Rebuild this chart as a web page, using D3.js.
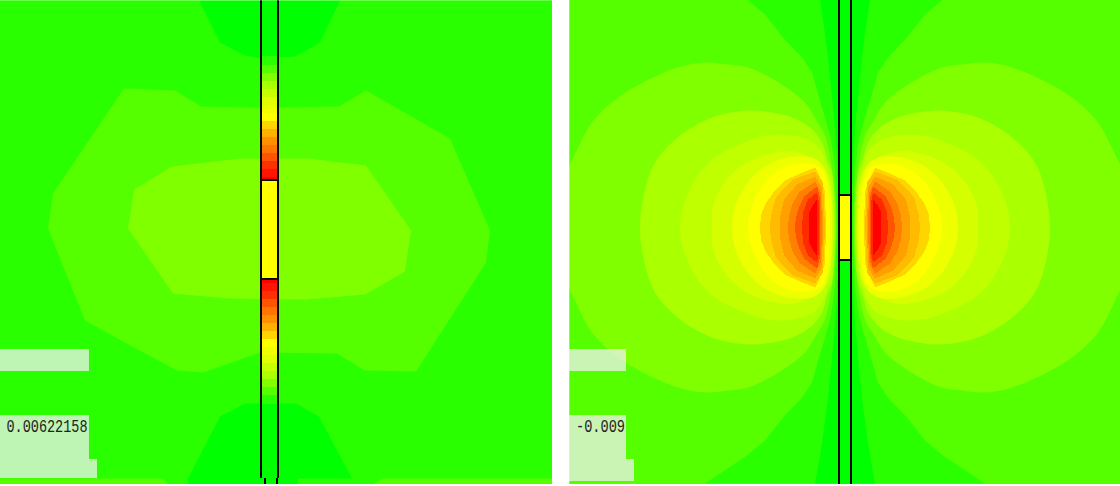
<!DOCTYPE html>
<meta charset="utf-8" />
<script src="https://d3js.org/d3.v7.min.js"></script>
<div id="my_dataviz"></div>
<script>
  // field contour levels, coordinates are offsets from the plate centre
  const levelColors = {
    l0: "#00ff00", l1: "#2aff00", l2: "#55ff00", l3: "#80ff00", l4: "#aaff00",
    l5: "#c0ff00", l6: "#d5ff00", l7: "#eeff00", l8: "#ffff00", l9: "#ffd500",
    l10: "#ffbb00", l11: "#ffa000", l12: "#ff8000", l13: "#ff5500", l14: "#ff2a00", l15: "#ff0000",
  };

  // left panel: closed contours
  const leftLevel0Top = [[-71,-229],[-50,-187],[-25,-174],[-9,-171],[9,-172],[25,-173],[50,-187],[70,-229]];
  const leftLevel0Bottom = [[-25,174],[26,174],[49,187],[82,249],[28,249],[28,255],[-82,255],[-82,249],[-50,187]];
  const leftLevel2 = [[-146,-141],[-95,-139],[-69,-123],[-9,-122],[9,-122],[69,-123],[96,-139],[180,-91],[220,1],[216,33],[146,142],[95,141],[67,124],[-10,123],[-67,143],[-93,141],[-147,112],[-185,91],[-222,-1],[-217,-36]];
  const leftLevel3 = [[-142,-1],[-136,-40],[-98,-63],[-30,-71],[38,-71],[96,-64],[141,1],[135,42],[95,65],[35,70],[-40,69],[-97,64]];
  const leftStripA = [[-270,249],[-107,249],[-102,255],[-270,255]];
  const leftStripB = [[112,249],[282,249],[282,255],[103,255]];

  // left plate: distance from the centre where each stripe starts, and its colour
  const stripeDy = [49,53,61,69,77,85,93,101,109,117,125,133,141,149,157,165,174];
  const stripeColors = ["#ff0000","#ff1500","#ff3000","#ff5500","#ff7500","#ff9000","#ffb000","#ffd500","#ffff00","#f0ff00","#e0ff00","#c8ff00","#aaff00","#80ff00","#55ff00","#2aff00"];

  // right panel: one quarter of each contour, [dx, |dy|], mirrored when drawn
  const wedge1 = [[140,256],[98,228],[80,213],[62,190],[43,170],[33,155],[26,130],[20,110],[14,88],[10,60],[8,0]];
  const wedge0 = [[30,256],[25,228],[21,201],[17,171],[14,140],[11,110],[8,70],[7,40],[7,0]];
  const lobes = [
    { level: "l3", q: [[305,0],[290,35],[275,63],[253,105],[227,130],[200,146],[167,160],[140,165],[117,163],[97,160],[75,150],[53,136],[40,125],[28,106],[20,92],[15,71],[12,50],[10,30],[9,0]] },
    { level: "l4", q: [[205,0],[200,38],[190,65],[173,85],[153,100],[130,111],[97,117],[73,115],[53,110],[35,100],[23,85],[18,68],[13,55],[11,35],[10,0]] },
    { level: "l5", q: [[165,0],[162,21],[150,48],[133,68],[110,81],[87,90],[67,93],[47,91],[33,86],[23,75],[18,61],[14,48],[12,28],[11,0]] },
    { level: "l6", q: [[133,0],[132,21],[123,41],[107,59],[90,69],[70,75],[50,76],[37,71],[25,65],[18,55],[14,38],[12,0]] },
    { level: "l7", q: [[113,0],[110,21],[100,41],[87,56],[70,66],[50,71],[33,70],[23,63],[17,48],[14,31],[13,0]] },
    { level: "l8", q: [[97,0],[93,21],[83,41],[70,55],[53,63],[33,63],[23,58],[18,41],[15,0]] },
    { level: "l9", q: [[85,0],[84,12],[80,23],[71,36],[60,47],[47,53],[30,60],[25,50],[20,36],[19,0]] },
    { level: "l10", q: [[75,0],[74,12],[69,30],[62,38],[52,48],[30,56],[22,45],[20,0]] },
    { level: "l11", q: [[65,0],[65,10],[61,28],[48,43],[30,51],[23,40],[22,0]] },
    { level: "l12", q: [[57,0],[56,12],[52,25],[45,36],[30,46],[24,35],[23,0]] },
    { level: "l13", q: [[50,0],[49,10],[46,20],[41,31],[28,41],[25,30],[25,0]] },
    { level: "l14", q: [[43,0],[42,15],[37,28],[28,35],[26,25],[26,0]] },
    { level: "l15", q: [[36,0],[36,15],[32,23],[28,28],[28,0]] },
  ];

  const valueLabels = ["0.00622158", "-0.009"];

  const svg = d3
    .select("#my_dataviz")
    .append("svg")
    .attr("width", 1120)
    .attr("height", 486)
    .style("display", "block");

  // one pair of scales per panel
  const xL = d3.scaleLinear().domain([-270, 282]).range([0, 552]);
  const yL = d3.scaleLinear().domain([-229.5, 254.5]).range([0, 484]);
  const xR = d3.scaleLinear().domain([-276, 275]).range([569, 1120]);
  const yR = d3.scaleLinear().domain([-227.5, 256.5]).range([0, 484]);

  const clip = (id, x, w) =>
    svg.append("clipPath").attr("id", id).append("rect")
      .attr("x", x).attr("y", 0).attr("width", w).attr("height", 484);
  clip("clipL", 0, 552);
  clip("clipR", 569, 551);

  const left = svg.append("g").attr("clip-path", "url(#clipL)");
  const right = svg.append("g").attr("clip-path", "url(#clipR)");

  ////////// left panel
  left.append("rect").attr("width", 552).attr("height", 484).attr("fill", levelColors.l1);

  const lineL = d3.line().x((d) => xL(d[0])).y((d) => yL(d[1])).curve(d3.curveLinearClosed);
  [
    [leftStripA, "l2"], [leftStripB, "l2"], [leftLevel2, "l2"], [leftLevel3, "l3"],
    [leftLevel0Top, "l0"], [leftLevel0Bottom, "l0"],
  ].forEach(([pts, lev]) => {
    left.append("path").attr("d", lineL(pts)).attr("fill", levelColors[lev]);
  });

  // plate with the colour stripes
  const plateL = left.append("g");
  plateL.append("rect")
    .attr("x", xL(-9)).attr("y", yL(-229.5))
    .attr("width", xL(8) - xL(-9)).attr("height", yL(249) - yL(-229.5))
    .attr("fill", levelColors.l0);
  [-1, 1].forEach((s) => {
    plateL.selectAll(null)
      .data(stripeColors)
      .join("rect")
      .attr("x", xL(-9))
      .attr("width", xL(8) - xL(-9))
      .attr("y", (d, i) => (s < 0 ? yL(-stripeDy[i + 1]) : yL(stripeDy[i])))
      .attr("height", (d, i) => yL(stripeDy[i + 1]) - yL(stripeDy[i]))
      .attr("fill", (d) => d)
      .attr("shape-rendering", "crispEdges");
  });
  plateL.append("rect")
    .attr("x", xL(-9)).attr("y", yL(-49.5))
    .attr("width", xL(8) - xL(-9)).attr("height", yL(49.5) - yL(-49.5))
    .attr("fill", "#ffff00");

  const plateLine = (g, x1, y1, x2, y2) =>
    g.append("line")
      .attr("x1", x1).attr("y1", y1).attr("x2", x2).attr("y2", y2)
      .attr("stroke", "#000").attr("stroke-width", 2);
  plateLine(left, xL(-9), 0, xL(-9), 478);
  plateLine(left, xL(8), 0, xL(8), 478);
  plateLine(left, xL(-9), yL(-49.5), xL(8), yL(-49.5));
  plateLine(left, xL(-9), yL(49.5), xL(8), yL(49.5));
  plateLine(left, 265, 478, 265, 484);
  plateLine(left, 277, 478, 277, 484);

  // paler edge row
  left.append("rect").attr("width", 552).attr("height", 1).attr("fill", "#fff").attr("opacity", 0.3);

  ////////// right panel
  right.append("rect").attr("x", 569).attr("width", 551).attr("height", 484).attr("fill", levelColors.l2);

  const lineR = d3.line().x((d) => xR(d[0])).y((d) => yR(d[1]));

  // wedge along the plate, both sides of it
  const wedgePath = (q) => {
    const down = q.map((p) => [p[0], -p[1]]).concat(q.slice(0, -1).reverse());
    const back = down.slice().reverse().map((p) => [-p[0], p[1]]);
    return lineR.curve(d3.curveLinearClosed)(down.concat(back));
  };
  right.append("path").attr("d", wedgePath(wedge1)).attr("fill", levelColors.l1);
  right.append("path").attr("d", wedgePath(wedge0)).attr("fill", levelColors.l0);

  // lobes, outer to inner, mirrored to each side of the plate
  // the wide ones are smooth in the picture, the inner ones have stepped edges
  [1, -1].forEach((side) => {
    lobes.forEach((lobe, i) => {
      const up = lobe.q.map((p) => [side * p[0], -p[1]]);
      const down = lobe.q.slice(1, -1).reverse().map((p) => [side * p[0], p[1]]);
      right.append("path")
        .attr("d", lineR.curve(i < 6 ? d3.curveCatmullRomClosed : d3.curveLinearClosed)(up.concat(down)))
        .attr("fill", levelColors[lobe.level])
        .attr("shape-rendering", i > 5 ? "crispEdges" : "auto");
    });
  });

  right.append("rect")
    .attr("x", xR(-6)).attr("y", 0)
    .attr("width", xR(6) - xR(-6)).attr("height", 484)
    .attr("fill", levelColors.l0);
  right.append("rect")
    .attr("x", xR(-6)).attr("y", yR(-32.5))
    .attr("width", xR(6) - xR(-6)).attr("height", yR(32.5) - yR(-32.5))
    .attr("fill", "#ffff00");
  plateLine(right, xR(-6), 0, xR(-6), 484);
  plateLine(right, xR(6), 0, xR(6), 484);
  plateLine(right, xR(-6), yR(-32.5), xR(6), yR(-32.5));
  plateLine(right, xR(-6), yR(32.5), xR(6), yR(32.5));

  // paler edge column
  right.append("rect").attr("x", 569).attr("width", 1).attr("height", 484).attr("fill", "#fff").attr("opacity", 0.3);

  ////////// pale label boxes and the value text
  const boxes = svg.append("g").attr("fill", "#f0f0f0").attr("fill-opacity", 0.75);
  const box = (x, y, w, h) =>
    boxes.append("rect").attr("x", x).attr("y", y).attr("width", w).attr("height", h);
  box(0, 349, 89, 22);
  box(0, 415, 89, 44);
  box(0, 459, 97, 19);
  box(569, 349, 57, 22);
  box(569, 415, 57, 44);
  box(569, 459, 65, 22);

  // tall narrow glyphs: 8px pitch, squeezed with textLength
  svg.selectAll("text.value")
    .data(valueLabels)
    .join("text")
    .attr("class", "value")
    .attr("x", (d, i) => (i === 0 ? 6.5 : 576))
    .attr("y", 432)
    .attr("textLength", (d) => d.length * 8 + 1)
    .attr("lengthAdjust", "spacingAndGlyphs")
    .style("font-family", "'Liberation Mono', monospace")
    .style("font-size", "19px")
    .style("fill", "#222")
    .text((d) => d);
</script>
<style>
  body {
    margin: 0;
    background-color: #fff;
  }
</style>
